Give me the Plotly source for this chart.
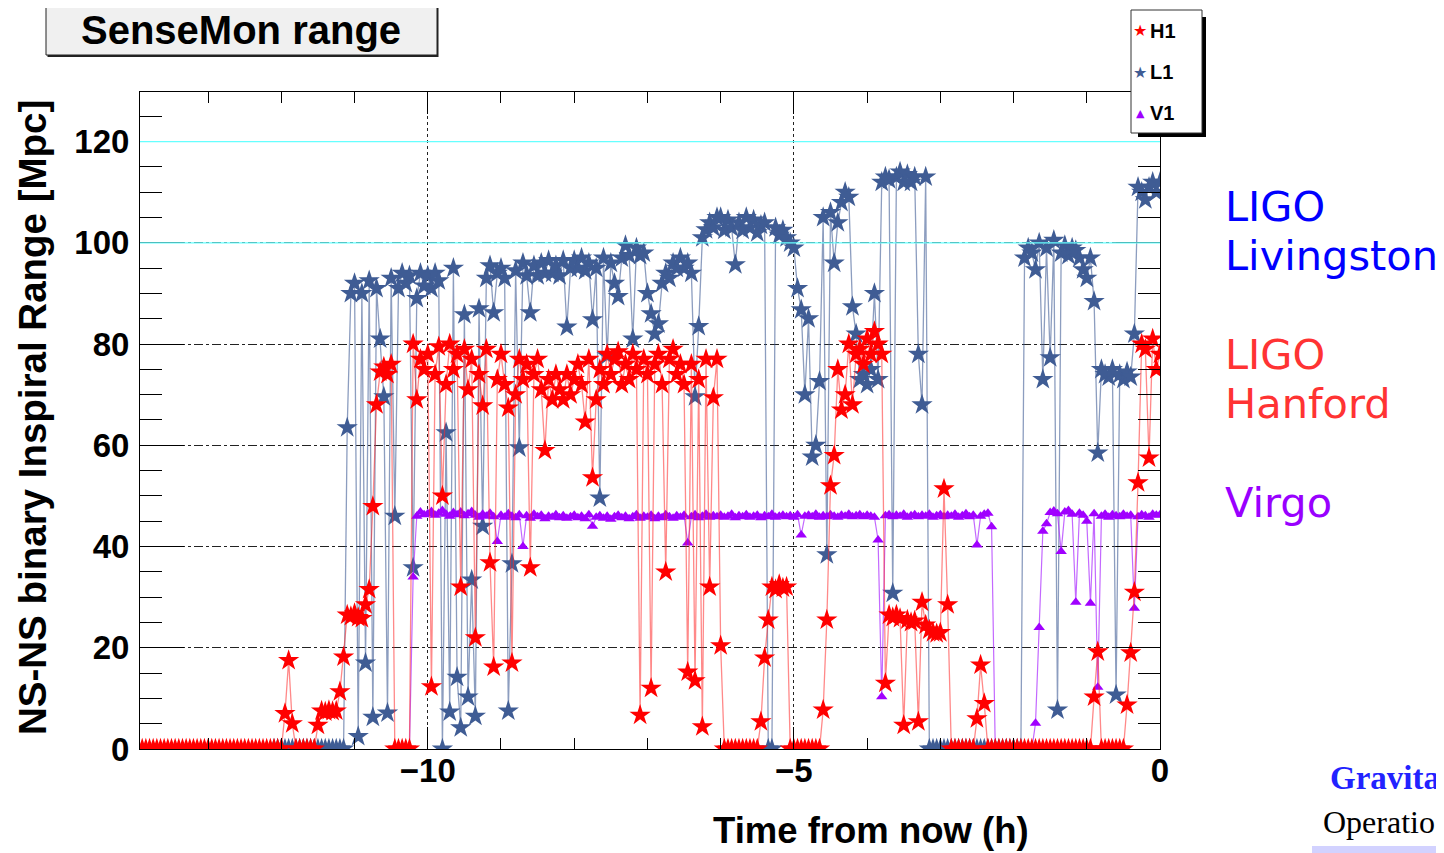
import plotly.graph_objects as go

# ---------------- data (3-minute samples, one row per hour) ----------------
STEP_H = 0.05
T_START = -14.0
N_SAMPLES = 281
TIME_H = [round(T_START + STEP_H * i, 2) for i in range(N_SAMPLES)]

H1_ROWS = [
    [0] * 20,                                                                   # -14 h
    [0] * 20,                                                                   # -13 h
    [0, 7, 17.5, 5, 0, 0, 0, 0, 0, 0, 4.7, 7.5, 7.3, 7.6, 7.4, 7.5, 11.3, 18.2, 26.5, 26.2],
    [26.8, 26.0, 25.8, 28.5, 31.5, 47.9, 68, 74.5, 75.5, 74, 76, 0, 0, 0, 0, 0, 80, 69, 77, 75],
    [78, 12.3, 74, 79.5, 50, 72, 80, 75, 78, 32, 79, 71, 77, 22, 74, 67.8, 79, 36.8, 16.2, 73],
    [78, 72, 67.4, 17, 70, 77, 73, 76, 35.8, 74, 77, 71, 59, 73, 69, 74, 71, 69, 74, 70],
    [73, 76, 72, 64.6, 77, 53.6, 69, 75, 72, 78, 74, 77, 78.5, 72, 76, 73, 78, 75, 6.7, 77],
    [74, 12, 76, 78, 72, 35, 77, 79, 74, 76, 72, 15.2, 76, 13.5, 73, 4.4, 77, 32, 69.4, 77],
    [20.4, 0, 0, 0, 0, 0, 0, 0, 0, 0, 0, 5.4, 18, 25.5, 32, 31.5, 32.5, 31.8, 32, 0],
    [0, 0, 0, 0, 0, 0, 0, 0, 7.7, 25.5, 52, 58, 75, 67, 70, 80, 68, 78, 79, 76],
    [81, 78, 82.5, 80, 78, 13, 26.5, 26, 26.5, 25.8, 4.7, 25.5, 25, 25.3, 5.4, 29, 24.5, 23.5, 23, 22.8],
    [23, 51.4, 28.5, 0, 0, 0, 0, 0, 0, 0, 6, 16.6, 9, 0, 0, 0, 0, 0, 0, 0],
    [0] * 20,
    [0, 0, 10.3, 19.2, 0, 0, 0, 0, 0, 0, 0, 8.7, 19, 31, 52.6, 80, 79, 57.5, 81, 75],
    [78],
]

L1_ROWS = [
    [None] * 20,
    [None] * 18 + [0, 0],
    [0] * 18 + [63.5, 90],
    [92, 2.5, 90, 17, 92.5, 6.3, 91, 81, 69.6, 7.1, 93, 46, 91, 94, 92, 93.5, 35.8, 89, 94, 91.5],
    [93.5, 91, 94, 92.5, 0, 62.5, 7.3, 95, 14.2, 4.2, 85.8, 10.3, 33.4, 6.5, 87, 44, 93, 95.5, 86.2, 94],
    [95, 93, 7.5, 36.6, 94.5, 59.5, 96, 93.5, 86.2, 95.5, 93.5, 96, 94, 96.5, 94, 95.5, 93.5, 96.5, 83.4, 95],
    [96.5, 95, 97, 94.5, 96, 84.8, 95, 49.6, 97, 77.7, 96, 92, 89.4, 97, 99.5, 97.5, 81, 99, 97.5, 98],
    [90, 86, 82, 84, 92, 94, 93, 96, 95, 97, 95, 96, 94, 69.6, 83.5, 101, 102.6, 104, 103, 105],
    [105, 102.5, 104.5, 103, 95.7, 104, 102.5, 105, 103, 104.5, 102, 103.5, 104, 0, 0, 103, 101.5, 102.5, 101, 100],
    [99, 91, 86.8, 70, 85, 57.7, 60, 72.6, 105, 38.4, 106, 96, 104, 108, 110, 109, 87.4, 82, 73, 74],
    [72, 75, 90, 73, 112, 113, 112.5, 30.8, 113, 114, 112, 113.5, 112, 113, 78, 68, 113, 0, 0, 0],
    [0] * 20,
    [0, 0, 0, 97, 99, 98, 94.7, 100, 73, 99, 77.3, 100.5, 7.7, 98, 99.5, 97.5, 99, 98.5, 97, 94.7],
    [93, 97, 88.4, 58.5, 75, 74, 73.5, 75, 10.7, 74, 73, 74.5, 73.5, 82, 111, 110, 108.5, 111, 112, 110],
    [112],
]

V1_ROWS = [
    [None] * 20,
    [None] * 20,
    [None] * 20,
    [None] * 15 + [0, 34, 46, 46.8, 46.3],
    [46.5, 46.9, 46.2, 46.6, 47.1, 46.4, 46.0, 46.7, 46.3, 46.8, 46.1, 46.5, 46.9, 46.2, 45.8, 46.4, 46.0, 46.6, 45.9, 41.0],
    [46.2, 45.8, 46.5, 46.0, 45.7, 46.3, 40.0, 46.1, 45.6, 46.4, 45.9, 46.2, 45.5, 46.0, 45.8, 46.3, 45.7, 46.1, 45.6, 45.9],
    [46.2, 45.7, 46.0, 45.5, 46.3, 44.0, 45.8, 46.1, 45.6, 46.0, 45.4, 45.9, 46.2, 45.7, 46.0, 45.5, 45.9, 46.3, 45.6, 46.0],
    [45.8, 46.2, 45.5, 46.0, 45.7, 46.3, 45.9, 45.6, 46.1, 45.8, 46.2, 40.7, 45.9, 46.3, 45.7, 46.0, 46.4, 45.8, 46.1, 45.9],
    [46.2, 45.8, 46.0, 46.4, 45.7, 46.1, 45.9, 46.3, 45.8, 46.0, 46.2, 45.7, 46.1, 45.9, 46.4, 45.8, 46.0, 46.2, 45.9, 46.1],
    [45.8, 46.3, 42.3, 46.0, 46.2, 45.9, 46.4, 45.8, 46.1, 45.9, 46.3, 46.0, 45.8, 46.2, 46.0, 46.4, 45.9, 46.1, 46.3, 45.9],
    [46.2, 46.0, 45.8, 41.3, 10.3, 46.1, 46.3, 45.9, 46.2, 46.0, 46.4, 45.8, 46.1, 46.3, 45.9, 46.2, 46.0, 46.4, 45.8, 46.1],
    [46.3, 45.9, 46.2, 46.0, 46.4, 45.8, 46.1, 46.5, 45.9, 46.2, 40.3, 46.0, 46.4, 46.6, 43.9, 0, 0, 0, 0, 0],
    [0, 0, 0, 0, 0, 0, 5.1, 24.0, 43.0, 44.5, 46.7, 47.0, 46.5, 39.0, 46.8, 47.1, 46.4, 29.0, 46.6, 46.2],
    [45.0, 28.8, 46.5, 12.2, 46.0, 46.4, 45.8, 46.3, 46.1, 45.9, 46.4, 46.0, 46.2, 27.8, 45.9, 46.3, 46.1, 45.8, 46.4, 46.2],
    [46.3],
]

H1 = [v for row in H1_ROWS for v in row]
L1 = [v for row in L1_ROWS for v in row]
V1 = [v for row in V1_ROWS for v in row]

X_RANGE = [-13.93, 0]
Y_RANGE = [0, 129.8]
Y_TICKS = [0, 20, 40, 60, 80, 100, 120]
X_TICKS = [-10, -5, 0]
THRESHOLDS = [100, 120]

# ---------------- layout geometry (page pixels) ----------------
OFF = 8                      # default body margin of the written page
PAGE_W, PAGE_H = 1444, 853
W, H = PAGE_W - OFF, PAGE_H - OFF
PL, PR, PT, PB = 140, 1160, 92, 749   # plot frame in page pixels


def fx(p):
    return (p - PL) / (PR - PL)


def fy(p):
    return (PB - p) / (PB - PT)


RED = "#ff0000"
BLUE = "#3f5c94"
PURPLE = "#a000ff"
FONT = "Liberation Sans"

fig = go.Figure()
fig.add_trace(go.Scatter(
    x=TIME_H, y=L1, mode="lines+markers", name="L1",
    line=dict(color="rgba(63,92,148,0.6)", width=1.3),
    marker=dict(symbol="star", size=16, color=BLUE, line=dict(width=0)),
))
fig.add_trace(go.Scatter(
    x=TIME_H, y=V1, mode="lines+markers", name="V1",
    line=dict(color="rgba(170,40,255,0.7)", width=1.2),
    marker=dict(symbol="triangle-up", size=10, color=PURPLE, line=dict(width=0)),
))
fig.add_trace(go.Scatter(
    x=TIME_H, y=H1, mode="lines+markers", name="H1",
    line=dict(color="rgba(255,40,40,0.55)", width=1.3),
    marker=dict(symbol="star", size=16, color=RED, line=dict(width=0)),
))

axis_common = dict(
    showline=True, linecolor="black", linewidth=1, mirror="ticks",
    ticks="inside", tickcolor="black", tickwidth=1,
    zeroline=False, showgrid=True, gridcolor="#222", gridwidth=1,
    tickfont=dict(family=FONT, size=33, color="black", weight="bold"),
)

fig.update_xaxes(
    range=X_RANGE, tickmode="array", tickvals=X_TICKS, ticklen=22,
    griddash="dot", ticklabelstandoff=-8,
    minor=dict(tickmode="linear", tick0=0, dtick=1, ticklen=11, ticks="inside",
               tickcolor="black", showgrid=False),
    **axis_common,
)
fig.update_yaxes(
    range=Y_RANGE, tickmode="array", tickvals=Y_TICKS, ticklen=44,
    griddash="dashdot", ticklabelstandoff=3,
    minor=dict(tickmode="linear", tick0=0, dtick=5, ticklen=22, ticks="inside",
               tickcolor="black", showgrid=False),
    **axis_common,
)

shapes = []
for thr in THRESHOLDS:
    shapes.append(dict(type="line", xref="x", yref="y", x0=X_RANGE[0], x1=X_RANGE[1],
                       y0=thr, y1=thr, line=dict(color="#66ffff", width=1.2), layer="above"))
# title box with shadow
shapes.append(dict(type="rect", xref="paper", yref="paper", x0=fx(47.5), x1=fx(438.5),
                   y0=fy(57), y1=fy(6.5), fillcolor="#222", line=dict(width=0), layer="above"))
shapes.append(dict(type="rect", xref="paper", yref="paper", x0=fx(46), x1=fx(437),
                   y0=fy(55), y1=fy(5), fillcolor="#f0f0f0", line=dict(color="#222", width=1),
                   layer="above"))
# legend box with shadow
shapes.append(dict(type="rect", xref="paper", yref="paper", x0=fx(1138), x1=fx(1206),
                   y0=fy(137), y1=fy(17), fillcolor="black", line=dict(width=0), layer="above"))
shapes.append(dict(type="rect", xref="paper", yref="paper", x0=fx(1131), x1=fx(1202),
                   y0=fy(133), y1=fy(10), fillcolor="white", line=dict(color="#333", width=1),
                   layer="above"))
# lavender strip bottom-right (slide remnant)
shapes.append(dict(type="rect", xref="paper", yref="paper", x0=fx(1312), x1=fx(1450),
                   y0=fy(856), y1=fy(846), fillcolor="#d2d2ff", line=dict(width=0), layer="above"))

ann = []


def text(x, y, s, size, color="black", weight="normal", family=FONT, xanchor="center",
         yanchor="middle", angle=0):
    ann.append(dict(xref="paper", yref="paper", x=fx(x), y=fy(y), text=s, showarrow=False,
                    xanchor=xanchor, yanchor=yanchor, textangle=angle,
                    font=dict(family=family, size=size, color=color, weight=weight)))


text(241, 30, "SenseMon range", 40, weight="bold")
text(32, 418, "NS-NS binary Inspiral Range [Mpc]", 38.5, weight="bold", angle=-90)
text(871, 830, "Time from now (h)", 36.5, weight="bold")

LEG = [("H1", "★", RED, 31, 16), ("L1", "★", BLUE, 72, 16), ("V1", "▲", PURPLE, 113, 11)]
for name, sym, col, yy, sz in LEG:
    text(1140, yy, sym, sz, color=col, family="DejaVu Sans")
    text(1148, yy, name, 20, weight="bold", xanchor="left")

SIDE = [("LIGO", 206, "#0000ff"), ("Livingston", 255, "#0000ff"),
        ("LIGO", 354, "#ff3333"), ("Hanford", 403, "#ff3333"), ("Virgo", 502, "#9900ff")]
for s, yy, col in SIDE:
    text(1223, yy, s, 41.5, color=col, family="DejaVu Sans", xanchor="left")

text(1328, 778, "Gravita", 33, color="#2222ff", weight="bold",
     family="Liberation Serif", xanchor="left")
text(1321, 822, "Operatio", 32, color="black", family="Liberation Serif", xanchor="left")

fig.update_layout(
    width=W, height=H, showlegend=False,
    margin=dict(l=PL - OFF, r=W - (PR - OFF), t=PT - OFF, b=H - (PB - OFF), autoexpand=False),
    paper_bgcolor="white", plot_bgcolor="white",
    shapes=shapes, annotations=ann,
)

fig.write_html("out.html")
